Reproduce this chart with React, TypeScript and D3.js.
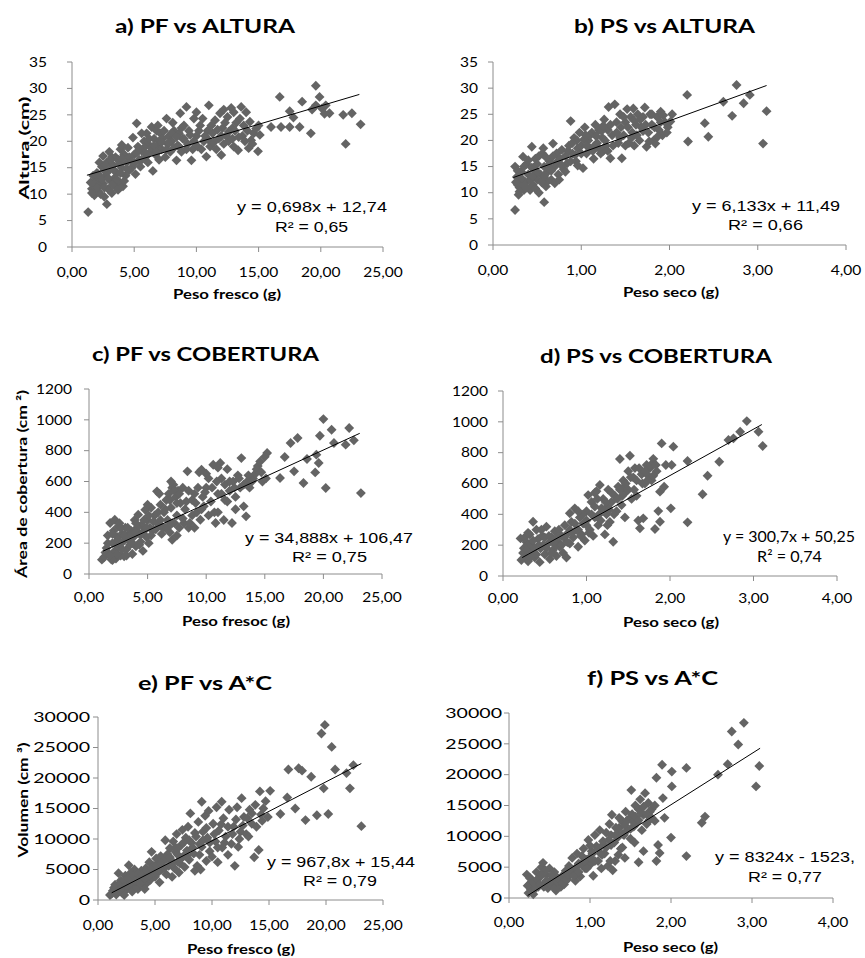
import React from 'react';
import * as d3 from 'd3';

// ---------- DATA ----------
const pfAltura: [number, number][] = [
  [1.3,6.6],[2.8,8.1],[1.6,11],[1.8,9.8],[1.9,12.5],[2.0,14],[2.1,10.5],[2.2,13],[2.3,11.8],[2.4,15.2],[2.5,12],[2.5,17.2],[2.6,9.5],[2.7,13.5],[2.8,16],[2.9,11],[3.0,18],[3.0,14.5],[3.1,12.5],[3.2,10.2],[3.3,15.5],[3.4,13],[3.5,17],[3.5,11.5],[3.6,14],[3.7,16.5],[3.8,12.2],[3.9,18.5],[4.0,19.3],[4.0,15],[4.1,11.5],[4.2,17.5],[4.3,13.5],[4.4,16],[4.5,18.8],[4.6,14.5],[1.5,12.2],[1.7,13.5],[2.2,16],[2.6,14.5],[3.2,17],[3.8,15.8],
  [4.8,15],[4.9,20.7],[5.0,17.5],[5.1,13.8],[5.2,23.4],[5.3,19],[5.4,16.5],[5.5,15.2],[5.6,18.2],[5.8,20],[5.9,17],[6.0,21.5],[6.1,16],[6.2,19.3],[6.3,18],[6.4,22.7],[6.5,14.4],[6.6,20.5],[6.7,17.5],[6.8,22],[6.9,19],[7.0,16.5],[7.1,21.5],[7.2,18.5],[7.3,20.5],[7.5,17],[7.6,24.3],[7.7,19.5],[7.8,21],[7.9,18],[8.0,20],[8.2,22],[8.4,16.4],[8.5,19.2],[8.6,21.5],[8.7,25.3],[8.8,18],[8.9,20.5],[9.0,23],[9.2,26.5],[9.3,19.5],[9.4,22],
  [9.6,16.4],[9.7,18.5],[9.8,24.3],[10.0,21],[10.1,19],[10.3,23],[10.5,24.3],[10.6,20],[10.8,17.1],[10.9,22],[11.0,26.8],[11.1,19],[11.3,21.5],[11.5,24],[11.6,18.5],[11.8,20.5],[11.9,25.3],[12.0,17.4],[12.1,22.5],[12.2,19.5],[12.4,21],[12.5,24.6],[12.6,20],[12.8,26.3],[12.9,22.5],[13.0,19],[13.2,23.5],[13.35,18.3],[13.5,24.3],[13.6,26.5],[13.7,21],[13.9,20],[14.0,25.5],[14.2,18.7],[14.3,23.7],[14.4,20.2],[14.6,21.5],[14.8,22.4],[14.95,18.1],[15.0,23],[15.1,21.2],
  [16.0,22.7],[16.8,22.7],[16.7,28.4],[17.5,22.7],[17.5,25.7],[18.3,22.7],[18.5,27.5],[19.2,21.5],[19.6,30.5],[19.9,28.4],[19.6,26.8],[20.1,26.2],[20.4,26.8],[20.7,25.3],[21.8,25],[22.0,19.5],[22.5,25.3],[23.2,23.2],[17.8,24.5],[19.3,26],[20.3,25.2],
  [1.6,10.2],[1.8,12],[2.0,11.2],[2.1,13.8],[2.3,10],[2.4,12.8],[2.6,11.2],[2.7,15.5],[2.9,13],[3.0,10.8],[3.1,16.5],[3.3,11.8],[3.4,14.5],[3.6,12.8],[3.7,10.8],[3.9,14],[4.0,16.8],[4.2,12.5],[4.4,14.8],[4.6,17],[4.8,16.2],[5.0,15.8],[5.2,17.8],[5.4,18.5],[5.6,16.5],[5.8,18.8],[6.0,17.5],[6.2,20.5],[6.4,18.8],[6.6,19.2],[6.8,18],[7.0,20],[7.2,19.8],[7.4,22],[7.6,18.5],[7.8,19.8],[8.0,21.5],[8.2,18.8],[8.4,20.8],[8.6,19],[8.8,22.5],[9.0,20.5],[9.2,18.5],[9.5,21.2],[9.8,20],[10.2,22],[10.4,18.5],[10.7,21],[11.0,20.2],[11.2,23],[11.4,19.8],[11.7,22.2],[12.0,21],[12.3,23.5],[12.6,21.8],[12.9,20.5],[13.1,22],[13.4,20.8],[13.8,23],[14.1,22],[14.5,19.5],[5.6,21.5],[6.9,23],[8.1,23.5],[10.0,25.5],[12.2,26],[13.0,25.5]
];

const psAltura: [number, number][] = [
  [0.25,6.7],[0.58,8.2],[0.25,15],[0.27,13],[0.28,11.5],[0.29,9.6],[0.3,12.5],[0.32,14],[0.34,16.9],[0.35,10.5],[0.37,12],[0.38,15.5],[0.4,13.5],[0.42,10.5],[0.44,18.8],[0.45,11.5],[0.46,14.5],[0.48,16.5],[0.5,12.5],[0.52,10],[0.54,13.5],[0.56,17.5],[0.57,18.5],[0.58,15],[0.6,11.2],[0.62,14],[0.64,16],[0.66,12.5],[0.68,19.4],[0.7,11.8],[0.7,15],[0.72,17.5],[0.74,13.5],[0.76,16.5],[0.78,18.2],[0.8,14.5],[0.34,12],[0.44,14.8],[0.5,15.5],[0.62,12.2],[0.3,11],
  [0.82,17],[0.84,15.6],[0.86,19],[0.88,23.7],[0.9,17.5],[0.92,20.5],[0.94,16],[0.96,18.5],[0.98,21.5],[1.0,19],[1.02,14.7],[1.04,22.5],[1.06,17.5],[1.08,20],[1.1,18.5],[1.12,21.5],[1.14,16.5],[1.16,23],[1.18,19.5],[1.2,22],[1.22,17.5],[1.24,20.5],[1.26,24],[1.28,19],[1.3,22],[1.31,26.4],[1.33,16.6],[1.35,21],[1.38,26.9],[1.4,23.5],[1.42,19.5],[1.44,25],[1.46,16.6],[1.48,21],[1.5,23.5],[1.52,26],[1.54,19.5],[1.56,24.5],[1.58,21.5],[1.59,26.1],[1.6,19],[1.62,23],[1.64,25],[1.66,20],[1.68,22.5],[1.7,24.5],[1.72,26.3],[1.74,18.8],[1.76,21.5],[1.78,25],[1.8,23],[1.82,20],[1.84,19.4],[1.86,24.5],[1.88,22],[1.9,25.5],[1.92,21],[1.95,23.5],[1.98,22.5],[2.01,23.6],[2.03,25],[1.15,19],[1.25,18],[0.95,20],[1.45,22.5],
  [2.20,28.7],[2.21,19.8],[2.40,23.3],[2.44,20.7],[2.61,27.4],[2.71,24.7],[2.76,30.6],[2.84,27.1],[2.91,28.7],[3.06,19.4],[3.10,25.6],
  [0.26,12],[0.28,14.2],[0.3,10.2],[0.32,12.8],[0.35,15],[0.38,11],[0.4,16.2],[0.42,12.5],[0.45,13.2],[0.48,10.8],[0.5,14],[0.52,17],[0.55,12],[0.58,13.2],[0.6,16.8],[0.63,15.2],[0.66,14.2],[0.68,17],[0.72,15.8],[0.75,12.5],[0.78,15.2],[0.82,14],[0.85,18],[0.88,16],[0.9,19.5],[0.93,17.2],[0.96,15.2],[1.0,17.5],[1.03,20.2],[1.06,19],[1.1,21],[1.13,18],[1.17,20.8],[1.2,18.5],[1.23,21.8],[1.27,20],[1.3,18],[1.33,23],[1.36,19],[1.4,21.5],[1.44,20.5],[1.48,24.5],[1.5,19],[1.53,22.5],[1.57,20.5],[1.6,23.8],[1.63,21],[1.67,24],[1.7,21.8],[1.73,23],[1.77,19.8],[1.8,25],[1.83,22.5],[1.87,20.8],[1.9,23.5],[1.93,24.8],[1.97,21.5],[1.25,22.8],[1.05,21]
];

const pfCobertura: [number, number][] = [
  [1.1,93],[1.3,110],[1.5,169],[1.6,250],[1.7,130],[1.8,331],[1.9,95],[2.0,200],[2.1,280],[2.2,352],[2.2,150],[2.3,100],[2.4,240],[2.5,310],[2.6,180],[2.7,120],[2.8,260],[2.9,210],[3.0,115],[3.1,300],[3.2,160],[3.3,230],[3.5,190],[3.6,280],[3.7,130],[3.8,240],[3.9,350],[4.0,180],[4.2,385],[4.3,260],[4.4,210],[4.5,320],[4.6,150],[4.7,280],[4.8,417],[4.9,240],[5.0,350],[5.1,200],[5.2,300],[5.3,430],[5.5,287],[5.6,380],[5.8,536],[2.0,90],[2.6,330],[3.4,260],[4.1,300],
  [6.0,320],[6.1,450],[6.2,260],[6.4,400],[6.5,300],[6.6,480],[6.7,350],[6.8,520],[6.9,270],[7.0,430],[7.1,222],[7.1,560],[7.2,579],[7.3,330],[7.4,500],[7.5,380],[7.6,540],[7.7,300],[7.8,460],[8.0,560],[8.1,331],[8.2,420],[8.4,666],[8.5,300],[8.6,331],[8.8,480],[9.0,520],[9.2,400],[9.4,660],[9.5,352],[9.6,677],[9.7,500],[9.8,440],[10.0,560],[10.2,380],[10.4,470],[10.6,709],[10.8,331],[10.9,600],[11.0,400],[11.2,720],[11.3,520],[11.5,350],[11.6,580],[11.8,470],[12.0,540],[12.2,331],[12.3,600],[12.5,500],[12.7,640],[12.9,560],[13.0,752],[13.2,439],[13.4,374],[13.5,600],[13.7,560],[14.0,620],[14.2,650],[14.4,700],[14.6,730],[14.8,600],[15.0,760],[15.2,785],[15.1,620],[7.5,250],[9.0,300],[10.0,650],[11.8,680],
  [16.3,623],[16.7,759],[17.2,850],[17.5,666],[17.8,882],[18.3,590],[18.6,746],[19.3,659],[19.4,774],[19.6,720],[19.7,897],[20.0,1005],[20.2,558],[20.7,936],[20.9,850],[21.9,839],[22.2,947],[22.6,867],[23.2,525],
  [1.4,140],[1.6,200],[1.8,120],[2.0,260],[2.2,200],[2.4,130],[2.5,220],[2.7,300],[2.8,160],[3.0,250],[3.2,120],[3.3,300],[3.5,240],[3.7,200],[3.9,270],[4.0,330],[4.3,190],[4.5,260],[4.7,350],[4.9,300],[5.1,380],[5.3,250],[5.5,340],[5.7,290],[5.9,400],[6.1,350],[6.3,300],[6.5,420],[6.7,300],[6.9,480],[7.1,330],[7.3,540],[7.5,460],[7.7,520],[8.0,360],[8.3,470],[8.5,540],[8.8,380],[9.1,460],[9.3,560],[9.6,420],[9.9,530],[10.2,620],[10.5,560],[10.7,400],[11.0,520],[11.3,620],[11.6,480],[12.0,600],[12.4,560],[12.8,620],[13.2,580],[13.6,640],[13.9,600],[14.3,680],[14.7,660],[5.0,450],[6.0,520],[7.0,600],[11.0,690],[12.5,420]
];

const psCobertura: [number, number][] = [
  [0.22,104],[0.21,244],[0.25,180],[0.27,130],[0.28,220],[0.3,95],[0.32,270],[0.33,160],[0.35,200],[0.36,352],[0.38,120],[0.4,300],[0.42,240],[0.44,90],[0.45,180],[0.47,260],[0.5,140],[0.52,320],[0.54,210],[0.56,110],[0.58,250],[0.6,170],[0.62,290],[0.64,130],[0.66,220],[0.68,190],[0.7,260],[0.72,150],[0.74,330],[0.76,120],[0.78,280],[0.8,407],[0.8,210],[0.3,200],[0.5,250],[0.65,250],
  [0.82,350],[0.84,250],[0.86,439],[0.88,300],[0.9,190],[0.92,380],[0.94,270],[0.96,340],[0.98,230],[1.0,420],[1.02,525],[1.04,300],[1.06,480],[1.08,260],[1.1,380],[1.12,550],[1.14,330],[1.16,590],[1.18,440],[1.2,500],[1.22,270],[1.24,400],[1.26,560],[1.28,350],[1.3,480],[1.32,222],[1.34,520],[1.36,420],[1.38,580],[1.4,759],[1.42,460],[1.44,620],[1.46,380],[1.48,550],[1.5,680],[1.52,780],[1.54,500],[1.56,640],[1.58,700],[1.6,520],[1.62,360],[1.64,309],[1.66,660],[1.68,374],[1.7,600],[1.72,720],[1.74,650],[1.76,700],[1.78,620],[1.8,760],[1.82,305],[1.84,680],[1.86,421],[1.88,547],[1.88,352],[1.9,860],[1.93,579],[1.95,720],[2.01,439],[2.02,720],[2.04,839],[1.0,330],[1.25,450],[1.45,580],[1.15,400],
  [2.21,746],[2.21,348],[2.39,530],[2.45,650],[2.59,741],[2.70,882],[2.76,893],[2.84,936],[2.92,1005],[3.06,936],[3.11,843],
  [0.24,150],[0.26,250],[0.28,170],[0.3,280],[0.33,120],[0.36,230],[0.38,180],[0.4,140],[0.43,200],[0.46,300],[0.48,200],[0.52,180],[0.55,260],[0.58,150],[0.6,230],[0.63,200],[0.67,300],[0.7,200],[0.73,250],[0.77,220],[0.8,300],[0.83,280],[0.86,340],[0.9,300],[0.93,260],[0.96,400],[1.0,360],[1.03,280],[1.06,400],[1.1,450],[1.13,500],[1.17,360],[1.2,420],[1.23,480],[1.27,430],[1.3,540],[1.33,400],[1.37,500],[1.4,560],[1.43,520],[1.47,600],[1.5,560],[1.53,640],[1.57,560],[1.6,620],[1.63,700],[1.67,600],[1.7,680],[1.73,620],[1.77,720],[1.8,650],[1.83,720],[0.9,420],[1.1,540],[1.25,330]
];

const pfVolumen: [number, number][] = [
  [1.05,820],[1.3,1500],[1.5,2500],[1.6,900],[1.8,4400],[1.9,1800],[2.0,3200],[2.1,1200],[2.2,2600],[2.4,4000],[2.5,1700],[2.6,3400],[2.7,5700],[2.8,2200],[2.9,4500],[3.0,1400],[3.1,3000],[3.3,2300],[3.4,3900],[3.5,1800],[3.6,3200],[3.8,4800],[3.9,2600],[4.0,3600],[4.2,5200],[4.3,2800],[4.4,4200],[4.5,6200],[4.6,3300],[4.7,7900],[4.8,4800],[4.9,5600],[5.0,3800],[5.1,6800],[5.2,4400],[5.3,5900],[5.4,2900],[2.3,800],[3.2,5000],[4.1,1800],
  [5.5,7200],[5.6,5000],[5.7,6300],[5.9,9800],[6.0,4200],[6.1,7500],[6.2,5600],[6.3,8500],[6.4,6600],[6.5,3800],[6.6,9600],[6.7,5200],[6.8,7900],[6.9,10800],[7.0,6300],[7.1,4500],[7.2,6000],[7.3,9000],[7.4,11500],[7.5,7200],[7.6,5400],[7.7,10200],[7.8,8100],[7.9,12000],[8.0,6600],[8.1,14200],[8.2,9400],[8.4,7600],[8.5,11000],[8.7,5600],[8.8,12800],[8.9,9200],[9.1,16100],[9.1,8700],[9.2,11200],[9.4,13800],[9.5,6400],[9.6,10200],[9.7,14600],[9.8,8000],[10.0,7100],[10.1,12500],[10.3,9600],[10.4,15200],[10.5,6200],[10.6,11400],[10.85,16100],[10.9,8600],[11.0,13400],[11.2,10400],[11.4,7400],[11.5,14800],[11.7,9200],[11.9,12000],[12.0,5600],[12.2,15200],[12.3,8700],[12.5,11200],[12.6,16700],[12.8,13600],[13.0,10800],[13.2,10400],[13.3,14800],[13.5,12500],[13.7,7000],[13.8,15600],[14.1,8200],[14.2,17800],[14.4,13000],[14.5,15000],[14.9,13600],[15.1,17900],[7.0,8500],[8.5,4800],[9.0,5000],
  [16.0,14100],[16.6,16800],[16.7,21400],[17.3,15000],[17.6,21600],[17.9,21200],[18.2,13100],[18.7,20200],[19.2,13900],[19.6,27300],[19.8,18300],[19.9,28700],[20.2,14100],[20.5,25100],[20.8,21400],[21.8,20800],[22.1,18300],[22.4,22100],[23.1,12100],
  [1.2,1000],[1.4,2000],[1.7,1300],[1.9,2700],[2.1,2000],[2.3,3200],[2.5,2400],[2.7,3600],[2.9,2800],[3.1,4000],[3.3,3100],[3.5,4400],[3.7,2700],[3.9,4200],[4.1,3600],[4.3,4800],[4.5,4000],[4.7,5200],[4.9,4400],[5.1,5600],[5.3,4800],[5.5,6000],[5.8,5200],[6.0,6800],[6.3,7000],[6.5,6000],[6.8,8600],[7.0,7400],[7.3,6800],[7.5,9400],[7.8,7200],[8.0,9800],[8.3,8600],[8.6,10400],[8.9,7400],[9.2,9800],[9.5,11800],[9.8,9400],[10.2,10800],[10.5,8600],[10.8,12400],[11.1,9400],[11.4,12000],[11.8,10800],[12.1,13200],[12.4,10000],[12.7,12200],[13.1,13400],[13.5,14200],[13.9,12000],[14.3,14000],[14.7,16200]
];

const psVolumen: [number, number][] = [
  [0.22,3800],[0.24,800],[0.25,2200],[0.27,1400],[0.28,3000],[0.3,600],[0.32,2600],[0.34,4200],[0.36,1800],[0.38,3400],[0.4,5000],[0.42,5700],[0.44,2400],[0.46,3800],[0.48,1600],[0.5,4800],[0.52,3000],[0.54,2000],[0.56,4200],[0.58,1200],[0.6,3300],[0.62,2500],[0.64,1800],[0.66,3600],[0.68,2200],[0.7,4400],[0.3,1800],[0.45,4500],[0.55,2800],
  [0.72,3000],[0.74,5200],[0.76,3800],[0.78,6500],[0.8,4400],[0.82,2800],[0.84,7200],[0.86,5600],[0.88,3500],[0.9,6800],[0.92,8000],[0.94,4800],[0.96,6200],[0.98,9400],[1.0,5400],[1.02,7600],[1.04,3600],[1.06,10200],[1.08,8400],[1.1,6000],[1.12,11000],[1.14,4800],[1.16,9200],[1.18,7200],[1.2,10600],[1.22,5200],[1.24,12000],[1.26,8600],[1.27,13500],[1.28,4500],[1.31,6000],[1.32,11400],[1.34,9800],[1.36,13000],[1.38,8000],[1.4,12400],[1.42,10200],[1.43,6500],[1.44,14000],[1.46,11000],[1.48,12800],[1.5,9600],[1.51,17500],[1.52,13600],[1.54,11600],[1.56,15000],[1.58,12200],[1.6,5800],[1.6,14400],[1.62,16000],[1.64,11000],[1.66,7600],[1.66,13500],[1.68,17000],[1.7,12000],[1.72,15400],[1.74,14000],[1.76,13000],[1.8,12500],[1.82,6000],[1.82,19500],[1.84,8600],[1.86,7300],[1.89,21600],[1.9,16200],[1.92,13000],[2.0,9800],[2.01,20500],[2.01,18100],[1.0,8500],[1.15,7000],[1.35,7000],
  [2.19,21100],[2.19,6800],[2.38,12200],[2.42,13200],[2.58,20000],[2.70,21700],[2.75,27000],[2.83,24900],[2.90,28400],[3.05,18100],[3.09,21400],
  [0.23,2000],[0.26,3200],[0.28,1000],[0.3,2600],[0.33,1600],[0.35,3000],[0.38,2200],[0.4,3800],[0.43,1800],[0.46,2800],[0.5,2200],[0.53,3600],[0.56,1600],[0.6,2600],[0.63,3000],[0.66,2400],[0.7,3000],[0.73,3800],[0.76,4600],[0.8,3600],[0.83,5000],[0.86,4200],[0.9,5400],[0.93,6000],[0.96,4800],[1.0,6600],[1.03,7200],[1.06,6000],[1.1,8000],[1.13,7200],[1.16,8600],[1.2,8200],[1.23,9400],[1.26,10200],[1.3,9000],[1.33,10400],[1.36,11400],[1.4,10400],[1.43,11800],[1.46,12600],[1.5,11200],[1.53,12400],[1.56,13200],[1.6,12600],[1.63,13800],[1.66,14800],[1.7,13600],[1.73,12600],[1.76,14400],[1.8,15000],[1.25,6000],[1.4,8200],[1.55,9000]
];

const xTicksPF = [0, 5, 10, 15, 20, 25];
const xTicksPS = [0, 1, 2, 3, 4];
const yTicksAltura = [0, 5, 10, 15, 20, 25, 30, 35];
const yTicksCobertura = [0, 200, 400, 600, 800, 1000, 1200];
const yTicksVolumen = [0, 5000, 10000, 15000, 20000, 25000, 30000];

const titles = ['a) PF vs ALTURA', 'b) PS vs ALTURA', 'c) PF vs COBERTURA', 'd) PS vs COBERTURA', 'e) PF vs A*C', 'f) PS vs A*C'];
const xTitles = ['Peso fresco (g)', 'Peso seco (g)', 'Peso fresoc (g)', 'Peso seco (g)', 'Peso fresco (g)', 'Peso seco (g)'];
const yTitles = ['Altura  (cm)', '', 'Área de cobertura (cm ²)', '', 'Volumen (cm ³)', ''];
const eqLine1 = ['y = 0,698x + 12,74', 'y = 6,133x + 11,49', 'y = 34,888x + 106,47', 'y = 300,7x + 50,25', 'y = 967,8x + 15,44', 'y = 8324x - 1523,'];
const eqLine2 = ['R² = 0,65', 'R² = 0,66', 'R² = 0,75', 'R² = 0,74', 'R² = 0,79', 'R² = 0,77'];
const slopes = [0.698, 6.133, 34.888, 300.7, 967.8, 8324];
const intercepts = [12.74, 11.49, 106.47, 50.25, 15.44, -1523];
const trendX: [number, number][] = [[1.2, 23.1], [0.23, 3.1], [1.2, 23.1], [0.23, 3.1], [1.2, 23.1], [0.23, 3.1]];

// ---------- LAYOUT ----------
type Box = { x: number; y: number; w: number };
type Layout = {
  L: number; R: number; T: number; B: number;
  title: Box; xt: Box; yt?: Box; eq1: Box; eq2: Box;
  yLabGap: number; yLabSx: number; xLabDy: number; eqFont: string;
};
const layouts: Layout[] = [
  { L: 72, R: 383, T: 62, B: 247, title: { x: 115, y: 33, w: 180 }, xt: { x: 173, y: 299, w: 108 }, yt: { x: 29, y: 148, w: 103 }, eq1: { x: 237, y: 212, w: 150 }, eq2: { x: 275, y: 232, w: 73 }, yLabGap: 25, yLabSx: 1.15, xLabDy: 30, eqFont: 'Liberation Sans, Arial, sans-serif' },
  { L: 493, R: 846, T: 62, B: 245, title: { x: 574, y: 33, w: 181 }, xt: { x: 623, y: 297, w: 96 }, eq1: { x: 692, y: 211, w: 148 }, eq2: { x: 728, y: 230, w: 75 }, yLabGap: 15, yLabSx: 1.15, xLabDy: 30, eqFont: 'Liberation Sans, Arial, sans-serif' },
  { L: 89, R: 382, T: 389, B: 574, title: { x: 92, y: 361, w: 227 }, xt: { x: 182, y: 626, w: 108 }, yt: { x: 27, y: 484, w: 188 }, eq1: { x: 245, y: 543, w: 168 }, eq2: { x: 292, y: 562, w: 75 }, yLabGap: 17, yLabSx: 1.15, xLabDy: 28, eqFont: 'Liberation Sans, Arial, sans-serif' },
  { L: 503, R: 837, T: 391, B: 576, title: { x: 540, y: 363, w: 232 }, xt: { x: 623, y: 627, w: 96 }, eq1: { x: 723, y: 542, w: 132 }, eq2: { x: 757, y: 562, w: 65 }, yLabGap: 15, yLabSx: 1.15, xLabDy: 27, eqFont: 'Lato, sans-serif' },
  { L: 98, R: 383, T: 717, B: 900, title: { x: 138, y: 690, w: 134 }, xt: { x: 187, y: 954, w: 108 }, yt: { x: 28, y: 800, w: 115 }, eq1: { x: 267, y: 867, w: 148 }, eq2: { x: 303, y: 886, w: 74 }, yLabGap: 8, yLabSx: 1.45, xLabDy: 30, eqFont: 'Liberation Sans, Arial, sans-serif' },
  { L: 509, R: 833, T: 713, B: 898, title: { x: 587, y: 685, w: 131 }, xt: { x: 623, y: 952, w: 95 }, eq1: { x: 715, y: 862, w: 140 }, eq2: { x: 748, y: 882, w: 74 }, yLabGap: 7, yLabSx: 1.45, xLabDy: 29, eqFont: 'Liberation Sans, Arial, sans-serif' },
];

const seriesList = [pfAltura, psAltura, pfCobertura, psCobertura, pfVolumen, psVolumen];
const xTickSets = [xTicksPF, xTicksPS, xTicksPF, xTicksPS, xTicksPF, xTicksPS];
const yTickSets = [yTicksAltura, yTicksAltura, yTicksCobertura, yTicksCobertura, yTicksVolumen, yTicksVolumen];

const AXIS = '#8c8c8c';
const MARK = '#646464';
const FONT = 'Lato, "Open Sans", sans-serif';
const fmtX = (v: number) => v.toFixed(2).replace('.', ',');

function Panel({ i }: { i: number }) {
  const lay = layouts[i];
  const data = seriesList[i];
  const xt = xTickSets[i];
  const yt = yTickSets[i];
  const x = d3.scaleLinear().domain([xt[0], xt[xt.length - 1]]).range([lay.L, lay.R]);
  const y = d3.scaleLinear().domain([yt[0], yt[yt.length - 1]]).range([lay.B, lay.T]);
  const diamond = d3.symbol().type(d3.symbolDiamond2).size(62)();
  const [tx0, tx1] = trendX[i];
  const line = d3.line<number>().x((v) => x(v)).y((v) => y(slopes[i] * v + intercepts[i]));
  return (
    <g>
      <text x={lay.title.x} y={lay.title.y} textLength={lay.title.w} lengthAdjust="spacingAndGlyphs"
        fontFamily={FONT} fontWeight="bold" fontSize={19.5} fill="#000">{titles[i]}</text>
      <line x1={lay.L} x2={lay.L} y1={lay.T} y2={lay.B} stroke={AXIS} />
      <line x1={lay.L} x2={lay.R} y1={lay.B} y2={lay.B} stroke={AXIS} />
      {yt.map((t) => (
        <g key={'y' + t}>
          <line x1={lay.L - 5} x2={lay.L} y1={y(t)} y2={y(t)} stroke={AXIS} />
          <text transform={`translate(${lay.L - lay.yLabGap},${y(t) + 4.7}) scale(${lay.yLabSx},1)`} textAnchor="end"
            fontFamily={FONT} fontSize={13.5} fill="#000">{String(t)}</text>
        </g>
      ))}
      {xt.map((t) => (
        <g key={'x' + t}>
          <line x1={x(t)} x2={x(t)} y1={lay.B} y2={lay.B + 5} stroke={AXIS} />
          <text transform={`translate(${x(t)},${lay.B + lay.xLabDy}) scale(1.15,1)`} textAnchor="middle"
            fontFamily={FONT} fontSize={13.5} fill="#000">{fmtX(t)}</text>
        </g>
      ))}
      <text x={lay.xt.x} y={lay.xt.y} textLength={lay.xt.w} lengthAdjust="spacingAndGlyphs"
        fontFamily={FONT} fontWeight="bold" fontSize={14} fill="#000">{xTitles[i]}</text>
      {lay.yt && yTitles[i] && (
        <text transform={`translate(${lay.yt.x},${lay.yt.y}) rotate(-90)`} x={-lay.yt.w / 2} y={0}
          textLength={lay.yt.w} lengthAdjust="spacingAndGlyphs"
          fontFamily={FONT} fontWeight="bold" fontSize={14} fill="#000">{yTitles[i]}</text>
      )}
      {data.map((d, k) => (
        <path key={k} d={diamond as string} transform={`translate(${x(d[0])},${y(d[1])})`} fill={MARK} />
      ))}
      <path d={line([tx0, tx1]) as string} stroke="#000" strokeWidth={1} fill="none" />
      <text x={lay.eq1.x} y={lay.eq1.y} textLength={lay.eq1.w} lengthAdjust="spacingAndGlyphs"
        fontFamily={lay.eqFont} fontSize={15} fill="#000">{eqLine1[i]}</text>
      <text x={lay.eq2.x} y={lay.eq2.y} textLength={lay.eq2.w} lengthAdjust="spacingAndGlyphs"
        fontFamily={lay.eqFont} fontSize={15} fill="#000">{eqLine2[i]}</text>
    </g>
  );
}

export default function App() {
  return (
    <svg width={865} height={958} style={{ position: 'absolute', left: 0, top: 0, background: '#fff' }}>
      <rect x={0} y={0} width={865} height={958} fill="#fff" />
      {titles.map((_, i) => <Panel key={i} i={i} />)}
    </svg>
  );
}
